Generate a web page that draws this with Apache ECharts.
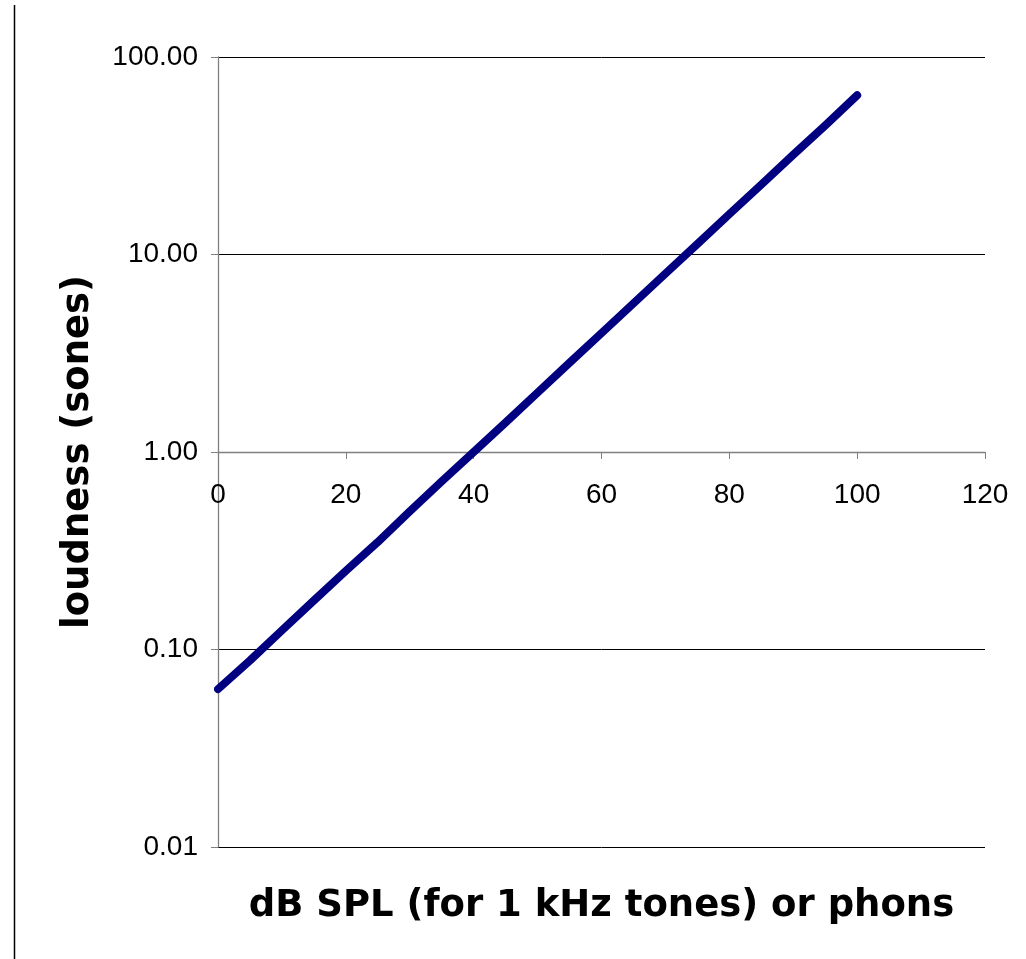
<!DOCTYPE html>
<html>
<head>
<meta charset="utf-8">
<style>html,body{margin:0;padding:0;background:#fff;}#chart{width:1026px;height:959px;}</style>
<script src="https://cdn.jsdelivr.net/npm/echarts@6/dist/echarts.min.js"></script>
</head>
<body>
<div id="chart"></div>
<script>
// Data
const phons = [0, 5, 10, 15, 20, 25, 30, 35, 40, 45, 50, 55, 60, 65, 70, 75, 80, 85, 90, 95, 100];
const sones = [0.063, 0.088, 0.125, 0.177, 0.25, 0.35, 0.5, 0.71, 1.0, 1.41, 2.0, 2.83, 4.0, 5.66, 8.0, 11.3, 16, 22.6, 32, 45, 64];
const xTitle = 'dB SPL (for 1 kHz tones) or phons';
const yTitle = 'loudness (sones)';

const chart = echarts.init(document.getElementById('chart'), null, {renderer: 'canvas'});
const gridTop = 57, gridBottom = 112;
const plotH = 959 - gridTop - gridBottom;
chart.setOption({
  animation: false,
  backgroundColor: '#fff',
  grid: {left: 218, right: 41, top: gridTop, bottom: gridBottom, containLabel: false},
  graphic: [{
    type: 'line', shape: {x1: 14.5, y1: 5, x2: 14.5, y2: 959},
    style: {stroke: '#000', lineWidth: 1.5}, silent: true
  }],
  xAxis: {
    type: 'value', min: 0, max: 120, interval: 20,
    position: 'bottom',
    offset: -(plotH / 2),
    name: xTitle, nameLocation: 'middle', nameGap: 436,
    nameTextStyle: {fontFamily: 'DejaVu Sans', fontWeight: 'bold', fontSize: 37, color: '#000'},
    axisLine: {show: true, onZero: false, lineStyle: {color: '#808080', width: 1.3}},
    axisTick: {show: true, length: 7, lineStyle: {color: '#808080', width: 1}},
    axisLabel: {margin: 29, fontFamily: 'Liberation Sans', fontSize: 28, color: '#000', showMinLabel: true, showMaxLabel: true},
    splitLine: {show: false}
  },
  yAxis: {
    type: 'log', logBase: 10, min: 0.01, max: 100,
    name: yTitle, nameLocation: 'middle', nameGap: 121, nameRotate: 90,
    nameTextStyle: {fontFamily: 'DejaVu Sans', fontWeight: 'bold', fontSize: 37, color: '#000'},
    axisLine: {show: true, lineStyle: {color: '#808080', width: 1.3}},
    axisTick: {show: true, length: 7, lineStyle: {color: '#808080', width: 1}},
    axisLabel: {margin: 20, fontFamily: 'Liberation Sans', fontSize: 28, color: '#000',
      formatter: v => Number(v).toFixed(2)},
    splitLine: {show: true, lineStyle: {color: ['#000', '#000', '#808080', '#000', '#000'], width: 1}}
  },
  series: [{
    type: 'line',
    data: phons.map((p, i) => [p, sones[i]]),
    symbol: 'none',
    smooth: false,
    lineStyle: {color: '#000080', width: 8, cap: 'round', join: 'round'},
    z: 5
  }]
});
</script>
</body>
</html>
